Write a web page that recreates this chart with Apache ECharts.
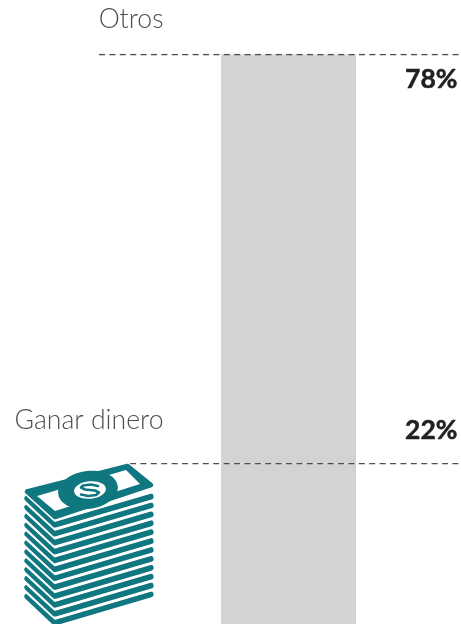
<!DOCTYPE html>
<html><head><meta charset="utf-8">
<style>html,body{margin:0;padding:0;background:#fff}#c{width:461px;height:624px}</style>
<script src="https://cdn.jsdelivr.net/npm/echarts@6/dist/echarts.min.js"></script>
</head><body><div id="c"></div>
<script>
const categories = ['Ganar dinero', 'Otros'];
const shares = [22, 78];
const shareLabels = ['22%', '78%'];
const axisFloor = -8.57;
const axisCeil = 100;

const TEAL = '#0f7780', GREY = '#d1d3d4', INK = '#231f20', SOFT = '#4d4d4f';

const layers = [];
for (let i = 0; i < 12; i++) layers.push(i);
const icon = [];
layers.slice().reverse().forEach(i => {
  const d = 8.9 * i;
  icon.push({type:'polyline', z:5, shape:{points:[[27.5,498.5+d],[55,524.5+d],[150.5,496.5+d]]},
    style:{stroke:TEAL, lineWidth:6.2, fill:null, lineCap:'round', lineJoin:'round'}});
  icon.push({type:'polyline', z:5, shape:{points:[[26,494+d],[55,520.5+d],[152,492+d]]},
    style:{stroke:'#fff', lineWidth:2.6, fill:null, lineCap:'butt', lineJoin:'round'}});
});
icon.push({type:'polygon', z:6, shape:{points:[[27,491.5],[127.5,466],[151,485],[55,517]]},
  style:{fill:TEAL, stroke:TEAL, lineWidth:4.5, lineJoin:'round'}});
icon.push({type:'polygon', z:7, shape:{points:[[37,496],[126,470],[140,484],[55,511]]}, style:{fill:'#fff'}});
icon.push({type:'ellipse', z:8, shape:{cx:88,cy:490,rx:30,ry:19}, rotation:0.14, originX:88, originY:490, style:{fill:TEAL}});
icon.push({type:'ellipse', z:9, shape:{cx:90,cy:490,rx:16,ry:8.7}, rotation:0.1, originX:90, originY:490, style:{fill:'#fff'}});
icon.push({type:'polyline', z:10, shape:{points:[[98,486],[91,484.5],[83,485.5],[81,487.5],[85,489.5],[95,490.5],[99,492.5],[96,495],[88,496],[81,494.5]]},
  style:{stroke:TEAL, lineWidth:2.6, fill:null, lineCap:'round', lineJoin:'round'}});

const leftText = (t, y) => ({type:'text', z:12, style:{text:t, x:163.5, y, textAlign:'right', textVerticalAlign:'middle',
  font:'300 26.6px Lato', fill:SOFT}});
const rightText = (t, y) => ({type:'text', z:12, style:{text:t, x:457.5, y, textAlign:'right', textVerticalAlign:'middle',
  font:'700 26.5px Lato', fill:INK, stroke:INK, lineWidth:0.5}});

const dash = {color:'#4d4d4f', width:1.3, type:[6,4.4]};
const chart = echarts.init(document.getElementById('c'), null, {renderer:'canvas'});
chart.setOption({
  animation:false,
  grid:[
    {left:116, right:0, top:54.5, height:569.5},
    {left:0, right:0, top:54.5, height:569.5}
  ],
  xAxis:[
    {gridIndex:0, type:'category', data:[''], show:false},
    {gridIndex:1, type:'value', min:0, max:461, show:false}
  ],
  yAxis:[
    {gridIndex:0, type:'value', min:axisFloor, max:axisCeil, show:false},
    {gridIndex:1, type:'value', min:axisFloor, max:axisCeil, show:false}
  ],
  series:[
    {type:'bar', name:categories[0], stack:'s', barWidth:135, data:[shares[0]], itemStyle:{color:GREY}},
    {type:'bar', name:categories[1], stack:'s', barWidth:135, data:[shares[1]], itemStyle:{color:GREY}},
    {type:'bar', name:'base', stack:'s', barWidth:135, data:[axisFloor], itemStyle:{color:GREY}},
    {type:'line', xAxisIndex:1, yAxisIndex:1, symbol:'none', z:5, data:[[99,shares[0]+shares[1]],[460,shares[0]+shares[1]]], lineStyle:dash},
    {type:'line', xAxisIndex:1, yAxisIndex:1, symbol:'none', z:5, data:[[130,shares[0]],[460,shares[0]]], lineStyle:dash}
  ],
  graphic:[
    leftText(categories[1], 19.5),
    leftText(categories[0], 420.5),
    rightText(shareLabels[1], 79),
    rightText(shareLabels[0], 430),
    ...icon
  ]
});
</script></body></html>
